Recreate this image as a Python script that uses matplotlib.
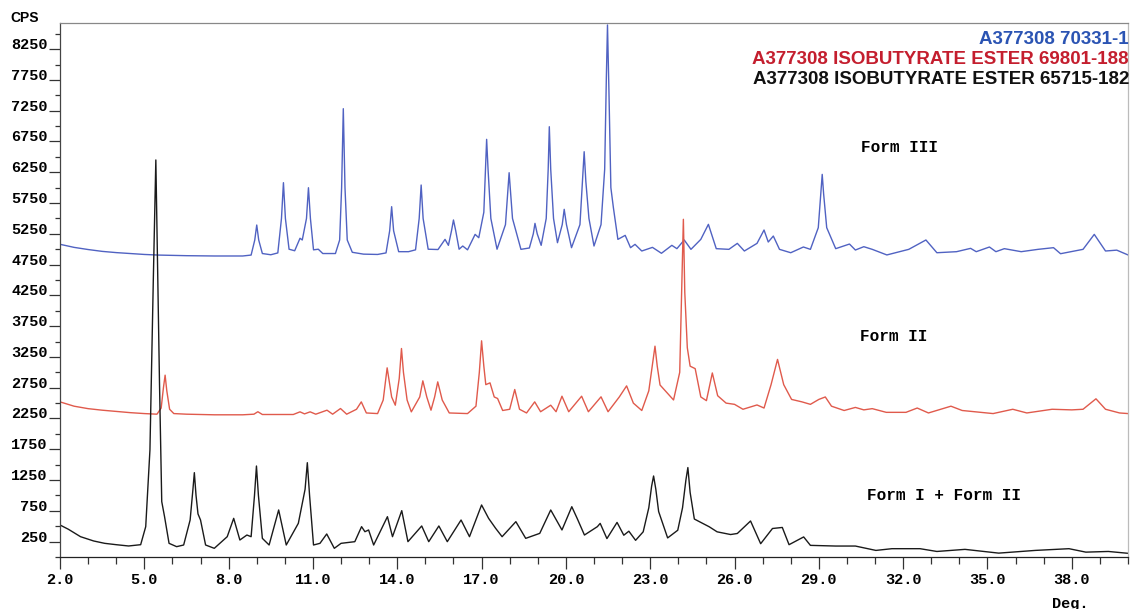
import matplotlib
matplotlib.use("Agg")
import matplotlib.pyplot as plt
import numpy as np

# 2-theta (deg) / counts, one vertex list per pattern
form3_x = [2.0, 2.5, 3.0, 3.5, 4.0, 4.5, 5.0, 5.5, 6.5, 7.5, 8.5, 8.8, 8.93, 9.0, 9.07, 9.2, 9.5,
           9.75, 9.88, 9.95, 10.02, 10.15, 10.35, 10.54, 10.62, 10.77, 10.84, 10.91, 11.02, 11.19,
           11.35, 11.8, 11.95, 12.02, 12.08, 12.14, 12.22, 12.4, 12.8, 13.3, 13.6, 13.73, 13.80,
           13.87, 14.05, 14.4, 14.65, 14.78, 14.85, 14.92, 15.1, 15.45, 15.70, 15.82, 15.93, 16.0,
           16.08, 16.2, 16.33, 16.5, 16.77, 16.9, 17.08, 17.14, 17.18, 17.23, 17.33, 17.55, 17.85,
           17.98, 18.1, 18.4, 18.7, 18.84, 18.9, 18.98, 19.12, 19.3, 19.37, 19.41, 19.46, 19.56,
           19.7, 19.87, 19.94, 20.02, 20.2, 20.5, 20.6, 20.65, 20.71, 20.82, 21.0, 21.25, 21.38,
           21.44, 21.48, 21.53, 21.6, 21.69, 21.85, 22.11, 22.3, 22.46, 22.7, 23.08, 23.4, 23.77,
           23.95, 24.21, 24.45, 24.8, 25.07, 25.35, 25.8, 26.1, 26.35, 26.8, 27.05, 27.2, 27.38,
           27.6, 28.0, 28.45, 28.7, 28.98, 29.07, 29.12, 29.17, 29.28, 29.6, 30.09, 30.3, 30.6,
           30.9, 31.42, 32.2, 32.81, 33.2, 33.9, 34.4, 34.6, 35.07, 35.3, 35.6, 36.2, 36.8, 37.35,
           37.6, 38.4, 38.8, 39.2, 39.6, 40.0]
form3_y = [5080, 5030, 4995, 4965, 4945, 4930, 4915, 4905, 4895, 4890, 4890, 4905, 5150, 5393, 5150,
           4930, 4910, 4940, 5500, 6081, 5500, 5000, 4975, 5178, 5150, 5500, 5999, 5500, 4990, 5000,
           4930, 4930, 5150, 6000, 7283, 6000, 5150, 4950, 4920, 4915, 4940, 5300, 5691, 5300, 4960,
           4960, 4990, 5500, 6043, 5500, 5000, 4995, 5160, 5063, 5300, 5475, 5300, 5000, 5052, 4990,
           5241, 5187, 5600, 6300, 6785, 6300, 5500, 5000, 5400, 6243, 5500, 4998, 5020, 5250, 5420,
           5250, 5063, 5500, 6300, 6990, 6300, 5500, 5106, 5400, 5648, 5400, 5025, 5400, 6200, 6584,
           6100, 5500, 5052, 5400, 6300, 7800, 8643, 7600, 6000, 5675, 5160, 5225, 5025, 5079, 4971,
           5030, 4934, 5063, 5009, 5150, 4998, 5160, 5404, 5009, 4998, 5095, 4971, 5095, 5312, 5117,
           5214, 4998, 4943, 5036, 4998, 5350, 5900, 6216, 5900, 5350, 5009, 5084, 4987, 5041, 4998,
           4907, 4998, 5150, 4943, 4960, 5014, 4960, 5036, 4960, 5009, 4960, 4998, 5025, 4927, 4998,
           5241, 4971, 4985, 4907]

form2_x = [2.0, 2.5, 3.0, 3.5, 4.0, 4.5, 5.0, 5.45, 5.6, 5.68, 5.74, 5.8, 5.9, 6.05, 6.5, 7.5, 8.5,
           8.9, 9.04, 9.2, 10.3, 10.54, 10.7, 10.9, 11.1, 11.5, 11.7, 11.98, 12.2, 12.55, 12.72,
           12.9, 13.3, 13.5, 13.64, 13.8, 13.93, 14.07, 14.15, 14.22, 14.35, 14.5, 14.8, 14.91,
           15.05, 15.2, 15.33, 15.44, 15.6, 15.85, 16.5, 16.8, 16.92, 17.0, 17.08, 17.15, 17.3,
           17.45, 17.57, 17.75, 18.0, 18.18, 18.35, 18.6, 18.89, 19.1, 19.46, 19.65, 19.86, 20.1,
           20.56, 20.8, 21.25, 21.5, 21.9, 22.16, 22.4, 22.7, 22.95, 23.1, 23.17, 23.25, 23.35,
           23.83, 24.05, 24.13, 24.18, 24.23, 24.32, 24.42, 24.6, 24.8, 25.0, 25.21, 25.4, 25.7,
           26.0, 26.3, 26.8, 27.05, 27.3, 27.53, 27.75, 28.03, 28.4, 28.7, 29.0, 29.23, 29.45,
           29.9, 30.3, 30.6, 30.9, 31.4, 32.1, 32.5, 32.9, 33.7, 34.1, 35.2, 35.9, 36.4, 37.3,
           38.0, 38.4, 38.86, 39.2, 39.7, 40.0]
form2_y = [2520, 2450, 2410, 2385, 2365, 2345, 2330, 2320, 2420, 2750, 2954, 2700, 2400, 2330, 2320,
           2310, 2310, 2320, 2360, 2315, 2315, 2358, 2325, 2358, 2320, 2385, 2320, 2412, 2320, 2400,
           2520, 2340, 2330, 2550, 3073, 2600, 2466, 2900, 3387, 3000, 2550, 2358, 2600, 2862, 2600,
           2385, 2600, 2845, 2550, 2340, 2330, 2450, 3000, 3512, 3100, 2800, 2829, 2600, 2575, 2380,
           2400, 2721, 2400, 2340, 2520, 2360, 2466, 2360, 2612, 2360, 2612, 2360, 2602, 2360, 2600,
           2780, 2500, 2380, 2700, 3200, 3425, 3100, 2794, 2551, 3000, 4500, 5486, 4300, 3400, 3100,
           3060, 2600, 2540, 2990, 2620, 2500, 2480, 2400, 2470, 2420, 2800, 3210, 2800, 2560, 2520,
           2480, 2560, 2600, 2450, 2380, 2430, 2390, 2410, 2350, 2350, 2420, 2340, 2450, 2380, 2330,
           2400, 2340, 2400, 2390, 2400, 2570, 2400, 2340, 2330]

form1_x = [2.0, 2.3, 2.73, 3.2, 3.59, 4.0, 4.44, 4.87, 5.05, 5.2, 5.32, 5.41, 5.48, 5.54, 5.62,
           5.72, 5.88, 6.15, 6.4, 6.63, 6.73, 6.78, 6.84, 6.91, 7.0, 7.18, 7.49, 7.95, 8.18, 8.4,
           8.65, 8.8, 8.92, 8.99, 9.06, 9.2, 9.44, 9.78, 10.05, 10.48, 10.72, 10.8, 10.88, 11.02,
           11.25, 11.49, 11.76, 12.0, 12.49, 12.73, 12.85, 12.98, 13.16, 13.65, 13.83, 14.16,
           14.38, 14.87, 15.12, 15.48, 15.78, 16.27, 16.57, 17.0, 17.25, 17.5, 17.73, 18.22, 18.57,
           19.07, 19.46, 19.86, 20.21, 20.4, 20.66, 21.12, 21.22, 21.46, 21.82, 22.06, 22.24,
           22.48, 22.75, 22.95, 23.05, 23.12, 23.2, 23.3, 23.62, 23.98, 24.15, 24.27, 24.34, 24.42,
           24.57, 24.8, 25.1, 25.38, 25.86, 26.1, 26.57, 26.93, 27.35, 27.7, 27.94, 28.46, 28.7,
           29.6, 30.3, 31.03, 31.6, 32.6, 33.2, 34.2, 35.4, 36.7, 37.9, 38.5, 39.3, 40.0]
form1_y = [520, 450, 330, 260, 222, 200, 179, 200, 493, 1738, 4500, 6450, 4500, 2827, 900, 655, 222,
           168, 195, 601, 1100, 1370, 1000, 700, 601, 195, 141, 330, 628, 276, 357, 330, 1000, 1478,
           1000, 303, 195, 764, 195, 547, 1100, 1532, 1000, 195, 222, 374, 141, 222, 249, 493, 411,
           439, 195, 655, 330, 753, 249, 504, 249, 504, 249, 601, 330, 845, 628, 466, 330, 574, 303,
           384, 764, 439, 817, 628, 357, 493, 546, 299, 562, 354, 419, 271, 409, 800, 1150, 1316,
           1100, 738, 310, 435, 800, 1250, 1453, 1050, 617, 562, 491, 409, 365, 382, 585, 216, 463,
           480, 200, 326, 189, 178, 178, 107, 135, 135, 90, 124, 63, 107, 135, 79, 90, 60]

legend_lines = ["A377308 70331-1",
                "A377308 ISOBUTYRATE ESTER 69801-188",
                "A377308 ISOBUTYRATE ESTER 65715-182"]
legend_colors = ["#2b54b3", "#c41e2e", "#111111"]

W, H = 1130, 609
fig = plt.figure(figsize=(W / 100, H / 100), dpi=100)
ax = fig.add_axes([60 / W, 1 - 557 / H, 1068 / W, 534 / H])

ax.plot(form3_x, form3_y, color="#5062c2", lw=1.0)
ax.plot(form2_x, form2_y, color="#e05a4c", lw=1.0)
ax.plot(form1_x, form1_y, color="#1a1a1a", lw=1.0)

ax.set_xlim(2.0, 40.0)
ax.set_ylim(0, 8675)

mono = "Liberation Mono"
ax.set_xticks(np.arange(2, 39, 3))
ax.set_xticklabels(["%.1f" % v for v in np.arange(2, 39, 3)],
                   fontfamily=mono, fontweight="bold", fontsize=11)
ax.set_xticks(np.arange(2, 41, 1), minor=True)
ax.set_yticks(np.arange(250, 8251, 500))
ax.set_yticklabels([str(v) for v in np.arange(250, 8251, 500)],
                   fontfamily=mono, fontweight="bold", fontsize=11)
ax.set_yticks(np.arange(0, 8676, 500), minor=True)
for lab in ax.get_yticklabels():
    lab.set_verticalalignment("baseline")

ax.tick_params(axis="x", which="major", length=8.5, width=0.9, color="#333333", pad=3)
ax.tick_params(axis="x", which="minor", length=5, width=0.9, color="#333333")
ax.tick_params(axis="y", which="major", length=8, width=0.9, color="#333333", pad=1)
ax.tick_params(axis="y", which="minor", length=3.6, width=0.9, color="#333333")

ax.spines["left"].set_color("#444444")
ax.spines["bottom"].set_color("#222222")
ax.spines["top"].set_color("#888888")
ax.spines["right"].set_color("#bbbbbb")
for s in ax.spines.values():
    s.set_linewidth(0.9)

fig.text(10 / W, 1 - 18 / H, "CPS", fontfamily="Liberation Sans", fontweight="bold",
         fontsize=10, ha="left", va="center")
fig.text(1070 / W, 1 - 597 / H, "Deg.", fontfamily=mono, fontweight="bold",
         fontsize=11, ha="center", va="top")

for i, (txt, col) in enumerate(zip(legend_lines, legend_colors)):
    fig.text(1129 / W, 1 - (39 + 20.5 * i) / H, txt, color=col, fontfamily="Liberation Sans",
             fontweight="bold", fontsize=13.5, ha="right", va="center")

ax.text(31.86, 6650, "Form III", fontfamily=mono, fontweight="bold", fontsize=11.5,
        ha="center", va="center")
ax.text(31.65, 3579, "Form II", fontfamily=mono, fontweight="bold", fontsize=11.5,
        ha="center", va="center")
ax.text(33.46, 1002, "Form I + Form II", fontfamily=mono, fontweight="bold", fontsize=11.5,
        ha="center", va="center")

fig.savefig("out.png", dpi=100)
